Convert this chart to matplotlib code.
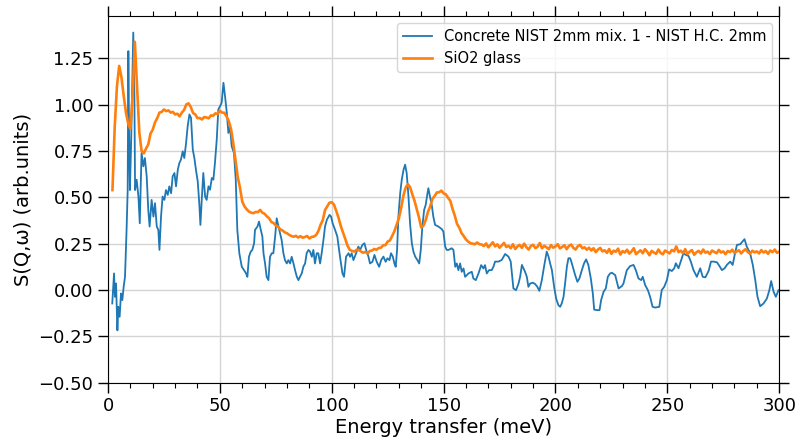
import matplotlib
matplotlib.use("Agg")
import matplotlib.pyplot as plt
from matplotlib.ticker import MultipleLocator

# Concrete NIST 2mm mix. 1 - NIST H.C. 2mm
conc_e = [1.9, 2.7, 3.1, 3.6, 4.2, 4.6, 5.2, 5.8, 6.4, 7.0, 7.6, 7.9, 8.3, 8.8, 9.1, 9.4, 9.8,
          10.3, 10.9, 11.3, 11.8, 12.1, 12.8, 13.6, 14.2, 15.0, 15.8, 16.5, 17.3, 18.0, 18.6,
          19.5, 20.3, 21.0, 21.8, 22.5, 23.0, 23.7, 24.4, 25.2, 25.9, 26.7, 27.4, 28.2, 28.9,
          29.7, 30.4, 31.2, 31.9, 32.6, 33.4, 34.1, 34.9, 35.6, 36.4, 37.1, 37.9, 38.6, 39.3,
          40.1, 40.8, 41.3, 41.9, 42.6, 43.4, 44.1, 44.9, 45.6, 46.4, 47.1, 47.8, 48.6, 49.3,
          50.1, 50.8, 51.6, 52.3, 53.1, 53.8, 54.5, 55.3, 56.3, 57.1, 57.8, 58.7, 59.8, 60.8,
          61.7, 62.3, 63.0, 63.8, 64.5, 65.3, 65.7, 66.8, 67.5, 68.3, 69.0, 69.5, 70.2, 70.9,
          71.7, 72.4, 73.2, 73.9, 74.7, 75.4, 76.2, 76.9, 77.6, 78.4, 79.1, 79.9, 80.6, 81.4,
          82.1, 82.9, 83.6, 84.4, 85.1, 85.8, 86.6, 87.3, 88.1, 88.8, 89.6, 90.3, 91.1, 91.8,
          92.5, 93.3, 94.0, 94.8, 95.5, 96.3, 97.0, 97.8, 99.0, 99.7, 100.4, 101.5, 102.5,
          103.7, 104.8, 105.5, 106.4, 107.5, 108.2, 108.9, 109.7, 110.9, 111.9, 112.7, 113.7,
          114.6, 115.6, 116.4, 117.1, 118.2, 119.1, 120.1, 121.2, 122.1, 123.1, 124.1, 124.9,
          125.8, 126.5, 127.3, 128.0, 128.6, 129.2, 129.8, 130.6, 131.3, 132.1, 132.8, 133.5,
          134.3, 135.0, 135.8, 136.5, 137.3, 138.3, 139.1, 139.8, 140.5, 141.3, 142.0, 142.8,
          143.2, 143.9, 144.7, 145.4, 146.2, 147.7, 149.2, 149.9, 150.7, 151.4, 152.2, 153.6,
          154.4, 155.2, 155.9, 156.6, 157.4, 158.1, 158.9, 159.6, 160.4, 161.1, 162.6, 163.3,
          164.4, 165.6, 166.8, 167.8, 168.5, 169.3, 170.3, 171.5, 172.3, 173.0, 174.5, 176.0,
          177.5, 179.0, 180.0, 181.2, 182.4, 183.5, 184.2, 185.0, 185.7, 186.4, 187.2, 187.9,
          188.7, 189.9, 190.9, 191.9, 192.8, 193.9, 194.9, 196.1, 196.9, 197.6, 198.4, 199.4,
          200.3, 201.3, 202.1, 202.8, 203.6, 204.3, 205.1, 205.8, 206.6, 207.3, 208.8, 209.8,
          210.7, 211.8, 212.8, 213.7, 214.7, 215.8, 216.7, 217.3, 218.5, 219.7, 220.4, 221.5,
          222.5, 223.4, 224.4, 225.2, 226.7, 228.2, 229.7, 230.4, 231.9, 233.4, 234.9, 235.9,
          237.1, 238.3, 239.0, 240.1, 241.3, 242.3, 243.4, 244.6, 246.4, 247.5, 248.6, 249.8,
          250.8, 252.0, 253.1, 253.8, 255.0, 256.0, 257.2, 258.3, 259.5, 260.5, 261.7, 263.2,
          264.7, 265.8, 267.0, 268.5, 269.5, 270.7, 272.2, 273.3, 274.4, 275.6, 276.6, 278.1,
          279.2, 280.1, 281.1, 282.6, 283.6, 284.5, 285.5, 287.0, 288.2, 289.3, 290.3, 291.5,
          293.0, 294.5, 295.6, 296.4, 297.5, 298.5, 299.7]
conc_s = [-0.072, 0.09, -0.036, 0.036, -0.217, -0.09, -0.144, -0.018, -0.054, 0.018, 0.072,
          0.18, 0.325, 0.54, 1.29, 0.866, 0.54, 0.776, 1.137, 1.39, 1.047, 0.54, 0.596, 0.505,
          0.361, 0.74, 0.668, 0.713, 0.614, 0.433, 0.343, 0.487, 0.397, 0.469, 0.343, 0.325,
          0.217, 0.397, 0.505, 0.487, 0.54, 0.514, 0.56, 0.523, 0.614, 0.632, 0.56, 0.65, 0.686,
          0.704, 0.749, 0.713, 0.794, 0.884, 0.948, 0.93, 0.758, 0.713, 0.65, 0.587, 0.469,
          0.352, 0.487, 0.632, 0.505, 0.487, 0.56, 0.542, 0.605, 0.596, 0.686, 0.812, 0.975,
          0.993, 1.011, 1.119, 1.047, 0.957, 0.848, 0.884, 0.776, 0.74, 0.596, 0.325, 0.199,
          0.126, 0.108, 0.09, 0.072, 0.18, 0.208, 0.217, 0.253, 0.325, 0.343, 0.37, 0.325, 0.289,
          0.199, 0.144, 0.072, 0.054, 0.18, 0.199, 0.199, 0.289, 0.388, 0.343, 0.307, 0.271,
          0.199, 0.162, 0.144, 0.162, 0.144, 0.18, 0.144, 0.108, 0.072, 0.054, 0.072, 0.09,
          0.126, 0.144, 0.199, 0.217, 0.208, 0.18, 0.217, 0.144, 0.199, 0.199, 0.144, 0.199,
          0.271, 0.343, 0.379, 0.406, 0.397, 0.361, 0.325, 0.289, 0.18, 0.09, 0.072, 0.18, 0.199,
          0.18, 0.199, 0.162, 0.199, 0.235, 0.217, 0.244, 0.253, 0.208, 0.181, 0.144, 0.153,
          0.19, 0.153, 0.126, 0.162, 0.181, 0.153, 0.172, 0.162, 0.199, 0.181, 0.144, 0.126,
          0.217, 0.397, 0.523, 0.596, 0.65, 0.677, 0.632, 0.505, 0.361, 0.253, 0.208, 0.181,
          0.162, 0.144, 0.217, 0.343, 0.433, 0.46, 0.523, 0.55, 0.505, 0.46, 0.397, 0.352, 0.343,
          0.329, 0.316, 0.235, 0.217, 0.217, 0.226, 0.217, 0.126, 0.144, 0.108, 0.144, 0.099,
          0.117, 0.072, 0.081, 0.09, 0.099, 0.063, 0.054, 0.09, 0.135, 0.117, 0.135, 0.09,
          0.108, 0.108, 0.127, 0.154, 0.154, 0.163, 0.195, 0.181, 0.154, 0.009, 0.0, 0.036,
          0.072, 0.136, 0.118, 0.099, 0.072, 0.018, 0.036, 0.04, 0.033, 0.018, -0.004, 0.054,
          0.127, 0.208, 0.181, 0.145, 0.108, 0.018, -0.045, -0.081, -0.09, -0.072, -0.036,
          0.036, 0.127, 0.172, 0.172, 0.145, 0.081, 0.045, 0.063, 0.108, 0.145, 0.166, 0.136,
          0.063, -0.018, -0.105, -0.108, -0.108, -0.054, -0.009, 0.009, 0.072, 0.09, 0.094,
          0.081, 0.009, 0.022, 0.036, 0.108, 0.13, 0.136, 0.108, 0.063, 0.054, 0.072, 0.027,
          0.0, -0.036, -0.09, -0.094, -0.09, 0.0, 0.018, 0.054, 0.112, 0.103, 0.118, 0.145,
          0.118, 0.154, 0.199, 0.19, 0.184, 0.154, 0.108, 0.072, 0.118, 0.072, 0.069, 0.105,
          0.154, 0.154, 0.15, 0.13, 0.108, 0.118, 0.136, 0.154, 0.136, 0.19, 0.244, 0.248,
          0.262, 0.275, 0.235, 0.199, 0.136, 0.054, -0.036, -0.087, -0.072, -0.045, 0.0, 0.049,
          -0.009, -0.036, 0.0]

# SiO2 glass, 1 meV steps from 2 to 300 meV
sio2_e = list(range(2, 301))
sio2_s = [0.54, 0.88, 1.10, 1.21, 1.15, 1.05, 0.96, 0.90, 0.87, 1.05, 1.34, 1.10, 0.85, 0.752,
          0.738, 0.764, 0.786, 0.845, 0.866, 0.905, 0.928, 0.958, 0.962, 0.975, 0.966, 0.97,
          0.958, 0.962, 0.948, 0.952, 0.938, 0.958, 0.972, 1.002, 1.008, 0.988, 0.956, 0.948,
          0.928, 0.929, 0.921, 0.934, 0.932, 0.927, 0.943, 0.941, 0.954, 0.951, 0.968, 0.958,
          0.957, 0.937, 0.912, 0.868, 0.792, 0.70, 0.61, 0.552, 0.478, 0.452, 0.436, 0.424,
          0.418, 0.415, 0.422, 0.421, 0.433, 0.418, 0.412, 0.398, 0.388, 0.368, 0.362, 0.348,
          0.343, 0.328, 0.322, 0.312, 0.307, 0.298, 0.292, 0.288, 0.293, 0.284, 0.291, 0.283,
          0.287, 0.292, 0.279, 0.287, 0.289, 0.297, 0.318, 0.352, 0.378, 0.432, 0.452, 0.472,
          0.474, 0.462, 0.428, 0.392, 0.348, 0.312, 0.278, 0.242, 0.218, 0.212, 0.208, 0.217,
          0.218, 0.209, 0.202, 0.206, 0.198, 0.211, 0.214, 0.222, 0.218, 0.227, 0.229, 0.242,
          0.243, 0.262, 0.268, 0.292, 0.318, 0.352, 0.388, 0.442, 0.508, 0.552, 0.572, 0.556,
          0.518, 0.482, 0.438, 0.392, 0.338, 0.348, 0.378, 0.422, 0.452, 0.492, 0.508, 0.527,
          0.528, 0.537, 0.522, 0.517, 0.498, 0.482, 0.438, 0.402, 0.358, 0.337, 0.308, 0.292,
          0.273, 0.262, 0.253, 0.251, 0.248, 0.257, 0.248, 0.246, 0.238,
          0.252, 0.231, 0.244, 0.258, 0.236, 0.247, 0.229, 0.241, 0.255, 0.233, 0.239, 0.226,
          0.248, 0.222, 0.236, 0.244, 0.228, 0.251, 0.232, 0.219, 0.238, 0.245, 0.227, 0.234,
          0.254, 0.226, 0.239, 0.231, 0.221, 0.243, 0.229, 0.236,
          0.248, 0.225, 0.233, 0.242, 0.221, 0.238, 0.246, 0.228, 0.219, 0.237, 0.244, 0.226,
          0.231, 0.218, 0.229, 0.214, 0.226, 0.205, 0.219, 0.228, 0.209, 0.215, 0.201, 0.222,
          0.196, 0.213, 0.207, 0.224, 0.192, 0.211,
          0.203, 0.218, 0.197, 0.209, 0.226, 0.194, 0.205, 0.215, 0.199, 0.221, 0.207, 0.188,
          0.212, 0.203, 0.196, 0.219, 0.201, 0.193, 0.214, 0.206, 0.198, 0.217, 0.209, 0.236,
          0.205, 0.213, 0.199, 0.221, 0.195, 0.208,
          0.216, 0.191, 0.204, 0.212, 0.198, 0.219, 0.202, 0.208, 0.195, 0.214, 0.206, 0.199,
          0.217, 0.203, 0.209, 0.194, 0.211, 0.205, 0.218, 0.201, 0.209, 0.215, 0.198, 0.212,
          0.221, 0.205, 0.197, 0.213, 0.204, 0.209,
          0.198, 0.216, 0.203, 0.211, 0.196, 0.214, 0.205, 0.219, 0.201, 0.208]

fig, ax = plt.subplots(figsize=(8, 4.41), dpi=100)
fig.subplots_adjust(left=0.135, right=0.974, bottom=0.132, top=0.964)

ax.plot(conc_e, conc_s, color='#1f77b4', lw=1.3, label='Concrete NIST 2mm mix. 1 - NIST H.C. 2mm')
ax.plot(sio2_e, sio2_s, color='#ff7f0e', lw=1.9, label='SiO2 glass')

ax.set_xlim(0, 300)
ax.set_ylim(-0.5, 1.48)
ax.xaxis.set_major_locator(MultipleLocator(50))
ax.xaxis.set_minor_locator(MultipleLocator(10))
ax.yaxis.set_major_locator(MultipleLocator(0.25))

ax.tick_params(axis='both', which='major', length=7, width=1, labelsize=13,
               top=True, right=True)
ax.tick_params(axis='x', which='minor', length=3.5, width=0.8, top=True)
ax.grid(True, which='major', color='#d4d4d4', lw=1)

ax.set_xlabel('Energy transfer (meV)', fontsize=14, labelpad=2)
ax.set_ylabel('S(Q,ω) (arb.units)', fontsize=14)
ax.legend(loc='upper right', fontsize=10.5)

plt.savefig('out.png', dpi=100)
